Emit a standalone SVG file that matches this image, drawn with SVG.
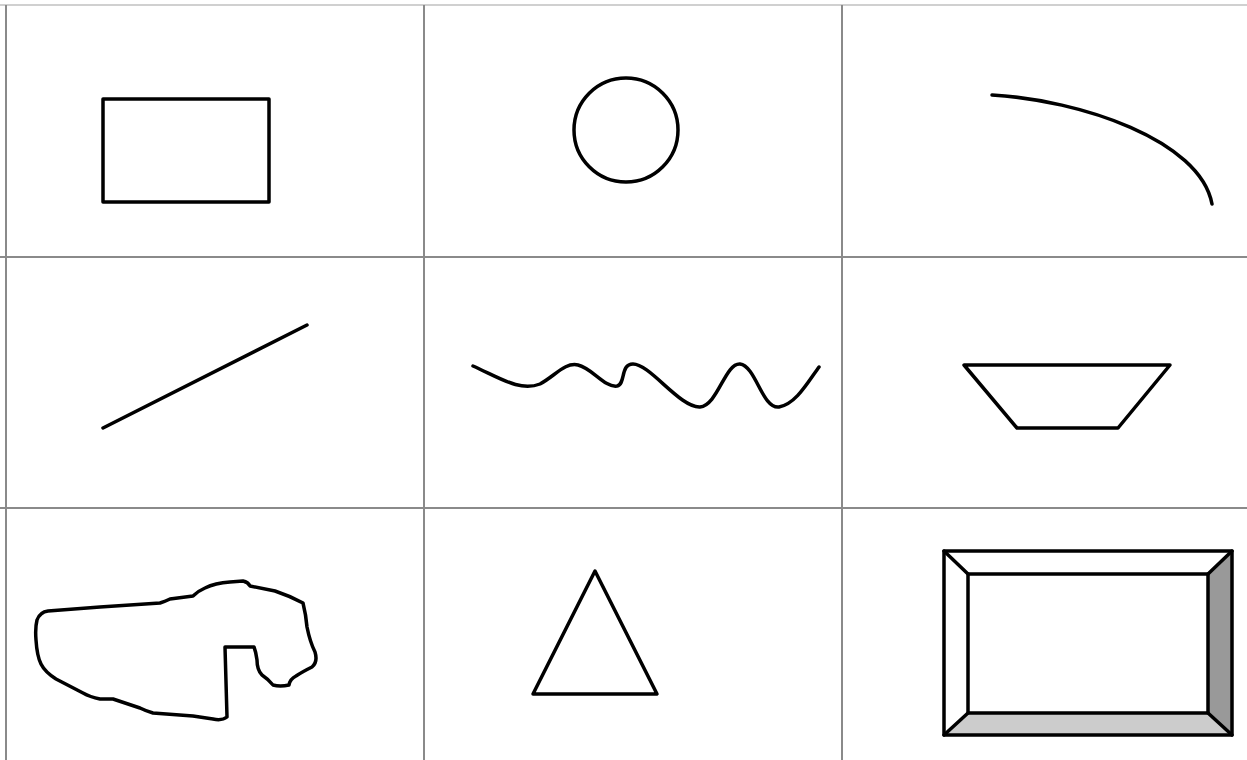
<svg xmlns="http://www.w3.org/2000/svg" width="1247" height="760" viewBox="0 0 1247 760">
<style>
.grid{stroke:#8a8a8a;stroke-width:2;fill:none}
.shape{stroke:#000;stroke-width:3.5;fill:none;stroke-linejoin:round;stroke-linecap:round}
</style>
<rect width="1247" height="760" fill="#fff"/>
<g id="grid">
<line class="grid" x1="0" y1="5" x2="1247" y2="5" style="stroke:#d0d0d0"/>
<line class="grid" x1="6" y1="5" x2="6" y2="760"/>
<line class="grid" x1="424" y1="5" x2="424" y2="760"/>
<line class="grid" x1="842" y1="5" x2="842" y2="760"/>
<line class="grid" x1="0" y1="257" x2="1247" y2="257"/>
<line class="grid" x1="0" y1="508" x2="1247" y2="508"/>
</g>
<g id="rectangle"><rect class="shape" x="103" y="99" width="166" height="103"/></g>
<g id="circle"><circle class="shape" cx="626" cy="130" r="52"/></g>
<g id="arc"><path class="shape" d="M992,95 C1080,100 1200,140 1212,204"/></g>
<g id="line"><line class="shape" x1="103" y1="428" x2="307" y2="325"/></g>
<g id="wave"><path class="shape" d="M473,366 C500,378 520,392 540,384 C555,376 565,362 578,365 C592,368 605,388 617,386 C626,384 620,364 633,364 C650,364 680,408 700,407 C718,405 725,363 740,364 C756,366 762,409 779,407 C796,404 808,382 819,367"/></g>
<g id="trapezoid"><polygon class="shape" points="964,365 1170,365 1118,428 1017,428"/></g>
<g id="freeform"><path class="shape" d="M48,611 L100,607 L160,603 Q166,601 170,599 L193,596 Q198,591 205,588 Q215,583 230,582 L243,581 Q248,582 250,586 Q260,588 275,591 Q290,596 303,603 Q306,615 307,627 Q310,642 315,652 Q318,662 312,667 Q302,672 296,676 Q290,679 289,685 Q280,687 273,685 Q268,679 262,675 Q257,670 257,660 Q256,652 254,647 L225,647 L227,717 Q222,721 213,719 L193,716 L153,713 Q146,711 140,708 L113,699 L100,699 Q90,697 83,693 L56,679 Q45,672 41,664 Q37,656 36,640 Q35,628 37,620 Q40,612 48,611 Z"/></g>
<g id="triangle"><polygon class="shape" points="595,571 657,694 533,694"/></g>
<g id="bevel">
<polygon points="1208,574 1232,551 1232,735 1208,713" fill="#999"/>
<polygon points="968,713 1208,713 1232,735 944,735" fill="#ccc"/>
<rect class="shape" x="944" y="551" width="288" height="184"/>
<rect class="shape" x="968" y="574" width="240" height="139"/>
<path class="shape" d="M944,551 L968,574 M1232,551 L1208,574 M944,735 L968,713 M1232,735 L1208,713"/>
</g>
</svg>
